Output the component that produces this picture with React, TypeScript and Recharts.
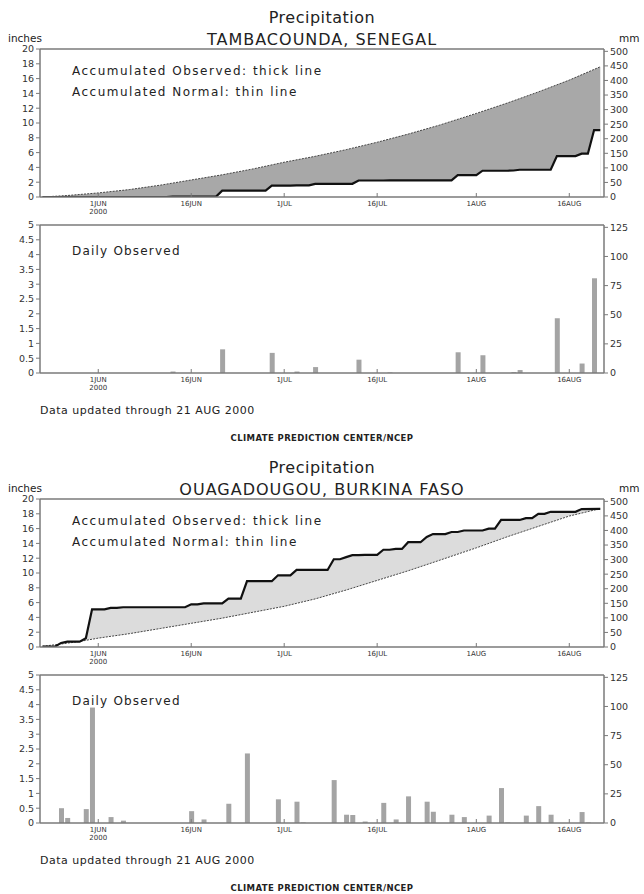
import React from "react";
import { ComposedChart, Area, Line, Bar, XAxis, YAxis, ReferenceLine } from "recharts";

// day 0 = 1 JUN 2000
const tickDays = [0, 15, 30, 45, 61, 76];
const tickLabels = ["1JUN", "16JUN", "1JUL", "16JUL", "1AUG", "16AUG"];
const accInchTicks = [0, 2, 4, 6, 8, 10, 12, 14, 16, 18, 20];
const accMmTicks = [0, 50, 100, 150, 200, 250, 300, 350, 400, 450, 500];
const dayInchTicks = [0, 0.5, 1, 1.5, 2, 2.5, 3, 3.5, 4, 4.5, 5];
const dayMmTicks = [0, 25, 50, 75, 100, 125];

// Tambacounda
const tamNormalDays = [-9, -5, 0, 5, 10, 15, 20, 25, 30, 35, 40, 45, 50, 55, 61, 66, 71, 76, 81];
const tamNormal = [0, 0.2, 0.55, 1.0, 1.6, 2.3, 3.0, 3.8, 4.7, 5.5, 6.4, 7.4, 8.5, 9.7, 11.3, 12.7, 14.2, 15.8, 17.6];
const tamObsDays = [-9, 11, 12, 19, 20, 27, 28, 31, 32, 34, 35, 41, 42, 46, 47, 57, 58, 61, 62, 66, 67, 68, 73, 74, 77, 78, 79, 80, 81];
const tamObs = [0, 0, 0.05, 0.05, 0.85, 0.85, 1.53, 1.53, 1.58, 1.58, 1.78, 1.78, 2.23, 2.23, 2.25, 2.25, 2.95, 2.95, 3.55, 3.55, 3.58, 3.68, 3.68, 5.53, 5.53, 5.85, 5.85, 9.05, 9.05];
const tamRainDays = [12, 20, 28, 32, 35, 42, 47, 58, 62, 67, 68, 74, 78, 80];
const tamRain = [0.05, 0.8, 0.68, 0.05, 0.2, 0.45, 0.02, 0.7, 0.6, 0.03, 0.1, 1.85, 0.32, 3.2];

// Ouagadougou
const ouaNormalDays = [-9, -6, -3, 0, 5, 10, 15, 20, 25, 30, 35, 40, 45, 50, 55, 61, 66, 71, 76, 81];
const ouaNormal = [0.1, 0.4, 0.75, 1.2, 1.8, 2.5, 3.2, 3.9, 4.7, 5.5, 6.5, 7.7, 9.0, 10.3, 11.7, 13.4, 14.9, 16.3, 17.7, 18.7];
const ouaObsDays = [-9, -7, -6, -5, -3, -2, -1, 1, 2, 3, 4, 14, 15, 16, 17, 20, 21, 23, 24, 28, 29, 31, 32, 37, 38, 39, 40, 41, 42, 43, 45, 46, 47, 48, 49, 50, 52, 53, 54, 56, 57, 58, 59, 62, 63, 64, 65, 68, 69, 70, 71, 72, 73, 77, 78, 81];
const ouaObs = [0.05, 0.05, 0.55, 0.72, 0.72, 1.19, 5.09, 5.09, 5.29, 5.29, 5.37, 5.37, 5.77, 5.77, 5.89, 5.89, 6.54, 6.54, 8.89, 8.89, 9.69, 9.69, 10.41, 10.41, 11.86, 11.86, 12.14, 12.41, 12.41, 12.46, 12.46, 13.14, 13.14, 13.26, 13.26, 14.16, 14.16, 14.88, 15.26, 15.26, 15.54, 15.54, 15.74, 15.74, 15.99, 15.99, 17.17, 17.17, 17.42, 17.42, 17.99, 17.99, 18.27, 18.27, 18.64, 18.66];
const ouaRainDays = [-6, -5, -2, -1, 2, 4, 15, 17, 21, 24, 29, 32, 33, 38, 40, 41, 43, 46, 48, 50, 53, 54, 57, 59, 63, 65, 66, 69, 71, 73, 78, 79];
const ouaRain = [0.5, 0.17, 0.47, 3.9, 0.2, 0.08, 0.4, 0.12, 0.65, 2.35, 0.8, 0.72, 0.02, 1.45, 0.28, 0.27, 0.05, 0.68, 0.12, 0.9, 0.72, 0.38, 0.28, 0.2, 0.25, 1.18, 0.02, 0.25, 0.57, 0.28, 0.37, 0.02];

const FONT = "'DejaVu Sans', sans-serif";
const AXIS = "#7a7a7a";
const XDOMAIN: [number, number] = [-9.4, 81.6];

function DayTick(props: any) {
  const { x, y, payload } = props;
  const i = tickDays.indexOf(payload.value);
  return (
    <g>
      <line x1={x} x2={x} y1={y} y2={y - 4} stroke={AXIS} strokeWidth={1} />
      <text x={x} y={y + 9} textAnchor="middle" fontSize={7} fill="#333" fontFamily={FONT}>
        {tickLabels[i]}
      </text>
      {i === 0 && (
        <text x={x} y={y + 17} textAnchor="middle" fontSize={7} fill="#333" fontFamily={FONT}>
          2000
        </text>
      )}
    </g>
  );
}

const tickStyle = { fontSize: 9.5, fill: "#333", fontFamily: FONT };

function Label({ x, y, size, children, center, spacing = 0.6, weight = 500 }: any) {
  return (
    <div
      style={{
        position: "absolute",
        left: center ? 0 : x,
        width: center ? 644 : undefined,
        textAlign: center ? "center" : "left",
        top: y,
        transform: "translateY(-50%)",
        fontSize: size,
        lineHeight: 1,
        fontFamily: FONT,
        fontWeight: weight,
        letterSpacing: spacing,
        color: "#222",
        whiteSpace: "nowrap",
      }}
    >
      {children}
    </div>
  );
}

function Panel({ top, station, normalDays, normal, obsDays, obs, rainDays, rain, surplus }: any) {
  const acc = [
    ...normalDays.map((d: number, i: number) => ({ d, normal: normal[i] })),
    ...obsDays.map((d: number, i: number) => ({ d, obs: obs[i] })),
  ].sort((a, b) => a.d - b.d);
  const daily = rainDays.map((d: number, i: number) => ({ d, rain: rain[i] }));
  const upperKey = surplus ? "obs" : "normal";
  const lowerKey = surplus ? "normal" : "obs";
  const fill = surplus ? "#dcdcdc" : "#a8a8a8";

  return (
    <div style={{ position: "absolute", left: 0, top, width: 644, height: 450 }}>
      <Label center y={18} size={16} spacing={0.5} weight={400}>Precipitation</Label>
      <Label center y={40} size={16} spacing={1} weight={400}>{station}</Label>
      <Label x={8} y={38} size={10.5} spacing={0}>inches</Label>
      <Label x={619} y={38} size={10.5} spacing={0}>mm</Label>

      <div style={{ position: "absolute", left: 0, top: 0 }}>
        <ComposedChart width={644} height={225} data={acc} margin={{ top: 49, right: 0, bottom: 0, left: 0 }}>
          <XAxis
            dataKey="d"
            type="number"
            domain={XDOMAIN}
            allowDataOverflow
            ticks={tickDays}
            interval={0}
            tick={<DayTick />}
            tickLine={false}
            tickSize={0}
            tickMargin={0}
            height={28}
            axisLine={{ stroke: AXIS, strokeWidth: 1.5 }}
          />
          <YAxis
            yAxisId="in"
            domain={[0, 20]}
            allowDataOverflow
            ticks={accInchTicks}
            interval={0}
            width={40}
            tick={tickStyle}
            tickSize={4}
            tickMargin={2}
            tickLine={{ stroke: AXIS }}
            axisLine={{ stroke: AXIS, strokeWidth: 1.5 }}
          />
          <YAxis
            yAxisId="mm"
            orientation="right"
            domain={[0, 508]}
            allowDataOverflow
            ticks={accMmTicks}
            interval={0}
            width={40}
            tick={tickStyle}
            tickSize={4}
            tickMargin={2}
            tickLine={{ stroke: AXIS }}
            axisLine={{ stroke: AXIS, strokeWidth: 1.5 }}
          />
          <ReferenceLine yAxisId="in" y={20} stroke={AXIS} strokeWidth={1.5} />
          <Area
            yAxisId="in"
            type="linear"
            dataKey={upperKey}
            stroke="none"
            fill={fill}
            fillOpacity={1}
            connectNulls
            dot={false}
            activeDot={false}
            isAnimationActive={false}
          />
          <Area
            yAxisId="in"
            type="linear"
            dataKey={lowerKey}
            stroke="none"
            fill="#ffffff"
            fillOpacity={1}
            connectNulls
            dot={false}
            activeDot={false}
            isAnimationActive={false}
          />
          <Line
            yAxisId="in"
            type="linear"
            dataKey="normal"
            stroke="#444"
            strokeWidth={1}
            strokeDasharray="2 1.2"
            connectNulls
            dot={false}
            activeDot={false}
            isAnimationActive={false}
          />
          <Line
            yAxisId="in"
            type="linear"
            dataKey="obs"
            stroke="#111"
            strokeWidth={2.2}
            connectNulls
            dot={false}
            activeDot={false}
            isAnimationActive={false}
          />
        </ComposedChart>
      </div>
      <Label x={72} y={71} size={12} spacing={1.5}>Accumulated Observed: thick line</Label>
      <Label x={72} y={92} size={12} spacing={1.5}>Accumulated Normal: thin line</Label>

      <div style={{ position: "absolute", left: 0, top: 200 }}>
        <ComposedChart width={644} height={200} data={daily} margin={{ top: 25, right: 0, bottom: 0, left: 0 }}>
          <XAxis
            dataKey="d"
            type="number"
            domain={XDOMAIN}
            allowDataOverflow
            ticks={tickDays}
            interval={0}
            tick={<DayTick />}
            tickLine={false}
            tickSize={0}
            tickMargin={0}
            height={27}
            axisLine={{ stroke: AXIS, strokeWidth: 1.5 }}
          />
          <YAxis
            yAxisId="in"
            domain={[0, 5]}
            allowDataOverflow
            ticks={dayInchTicks}
            interval={0}
            width={40}
            tick={tickStyle}
            tickSize={4}
            tickMargin={2}
            tickLine={{ stroke: AXIS }}
            axisLine={{ stroke: AXIS, strokeWidth: 1.5 }}
          />
          <YAxis
            yAxisId="mm"
            orientation="right"
            domain={[0, 127]}
            allowDataOverflow
            ticks={dayMmTicks}
            interval={0}
            width={40}
            tick={tickStyle}
            tickSize={4}
            tickMargin={2}
            tickLine={{ stroke: AXIS }}
            axisLine={{ stroke: AXIS, strokeWidth: 1.5 }}
          />
          <ReferenceLine yAxisId="in" y={5} stroke={AXIS} strokeWidth={1.5} />
          <Bar yAxisId="in" dataKey="rain" fill="#a4a4a4" barSize={5} isAnimationActive={false} />
        </ComposedChart>
      </div>
      <Label x={72} y={251} size={12} spacing={1.2}>Daily Observed</Label>

      <Label x={40} y={410} size={11} spacing={0.5}>Data updated through 21 AUG 2000</Label>
      <Label center y={438} size={8.5} spacing={0.4} weight={700}>CLIMATE PREDICTION CENTER/NCEP</Label>
    </div>
  );
}

export default function App() {
  return (
    <div style={{ position: "absolute", left: 0, top: 0, width: 644, height: 894, background: "#fff", overflow: "hidden" }}>
      <Panel
        top={0}
        station="TAMBACOUNDA, SENEGAL"
        normalDays={tamNormalDays}
        normal={tamNormal}
        obsDays={tamObsDays}
        obs={tamObs}
        rainDays={tamRainDays}
        rain={tamRain}
        surplus={false}
      />
      <Panel
        top={450}
        station="OUAGADOUGOU, BURKINA FASO"
        normalDays={ouaNormalDays}
        normal={ouaNormal}
        obsDays={ouaObsDays}
        obs={ouaObs}
        rainDays={ouaRainDays}
        rain={ouaRain}
        surplus={true}
      />
    </div>
  );
}
